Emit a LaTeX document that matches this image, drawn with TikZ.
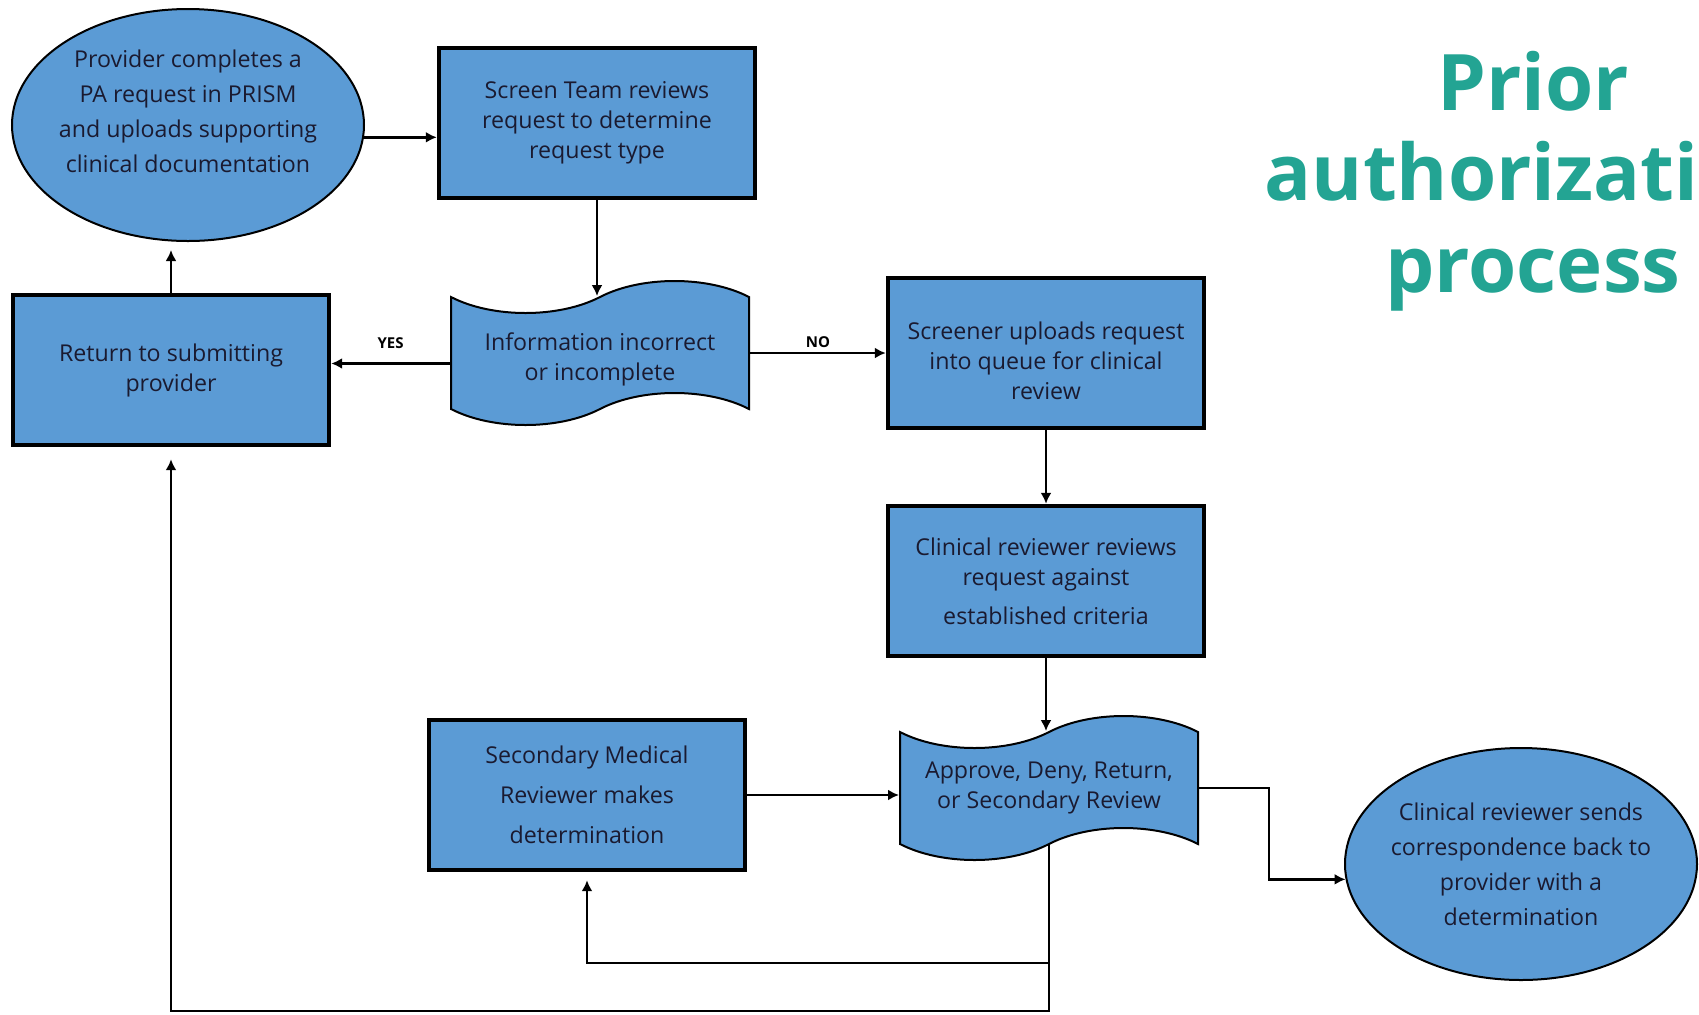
\documentclass[tikz,border=0pt]{standalone}
\usepackage{fontspec}
\setmainfont{Open Sans}
\usetikzlibrary{arrows.meta,positioning,shapes.geometric,shapes.symbols}
\definecolor{boxblue}{HTML}{5B9BD5}
\definecolor{inkdark}{HTML}{1A1A30}
\definecolor{titleteal}{HTML}{23A493}

\begin{document}
\begin{tikzpicture}[
    x=0.5pt, y=-0.5pt,
    font=\fontsize{11.6}{15}\selectfont,
    block/.style={draw, line width=2.2pt, fill=boxblue, text=inkdark, align=center, minimum width=158pt, minimum height=75pt, inner sep=2pt},
    oval/.style={draw, ellipse, line width=1pt, fill=boxblue, text=inkdark, align=center, minimum width=176pt, minimum height=116pt, inner xsep=-4pt, inner ysep=-3pt, font=\fontsize{11.6}{17.5}\selectfont},
    punch/.style={draw, tape, tape bend height=16pt, line width=1pt, fill=boxblue, text=inkdark, align=center, minimum width=149pt, minimum height=72pt},
    arrow/.style={-{Latex[length=5.5pt,width=5.5pt]}, line width=1.2pt},
    choice/.style={font=\fontsize{7.5}{9}\selectfont\bfseries, inner sep=2pt},
    heading/.style={text=titleteal, font=\fontsize{39}{45}\selectfont\bfseries, inner sep=0pt}
]
\useasboundingbox (0,0) rectangle (1699,1014);

% title
\node[heading, anchor=base] (title1) at (1533,110) {Prior};
\node[heading, anchor=base east] (title2) at (1699,200) {authorizati};
\node[heading, anchor=base] (title3) at (1533,292) {process};

% steps
\node[oval, text depth=14pt] (provider) at (188,125) {Provider completes a\\PA request in PRISM\\and uploads supporting\\clinical documentation};
\node[block] (screen) at (597,123) {Screen Team reviews\\request to determine\\request type};
\node[punch, text height=30pt] (info) at (600,353) {Information incorrect\\or incomplete};
\node[block] (ret) at (171,370) {Return to submitting\\provider};
\node[block, text height=47pt] (screener) at (1046,353) {Screener uploads request\\into queue for clinical\\review};
\node[block] (crit) at (1046,581) {Clinical reviewer reviews\\request against\\[4.5pt]established criteria};
\node[punch] (decide) at (1049,788) {Approve, Deny, Return,\\or Secondary Review};
\node[block] (second) at (587,795) {Secondary Medical\\[5pt]Reviewer makes\\[5pt]determination};
\node[oval] (sends) at (1521,864) {Clinical reviewer sends\\correspondence back to\\provider with a\\determination};

\coordinate (lowA) at (0,963);
\coordinate (lowB) at (0,1011);

\draw[arrow] (provider.-4) -- (provider.-4 -| screen.west);
\draw[arrow] (screen.south) -- (screen.south |- info.north);
\draw[arrow] (info.-176) -- node[choice, above=5pt]{YES} (info.-176 -| ret.east);
\draw[arrow] (info.east) -- node[choice, above]{NO} (info.east -| screener.west);
\draw[arrow, shorten >=4pt] (ret.north) -- (ret.north |- provider.south);
\draw[arrow] (screener.south) -- (crit.north);
\draw[arrow] (crit.south) -- (crit.south |- decide.north);
\draw[arrow] (second.east) -- (second.east -| decide.west);
\draw[arrow] (decide.east) -- ++(70,0) |- (sends.185);
\draw[arrow, shorten >=4pt] (decide.south) |- (second.south |- lowA) -- (second.south);
\draw[arrow, shorten >=6pt] (decide.south) |- (ret.south |- lowB) -- (ret.south);
\end{tikzpicture}
\end{document}
